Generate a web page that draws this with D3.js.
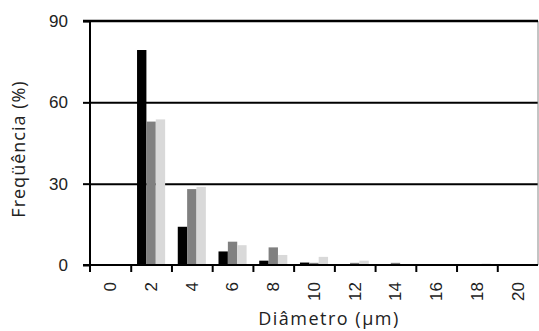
<!DOCTYPE html>
<html>
<head>
  <meta charset="utf-8" />
  <title>Frequência x Diâmetro</title>
  <script src="https://d3js.org/d3.v7.min.js"></script>
  <style>
    body {
      margin: 0;
      background: #fff;
    }

    svg {
      display: block;
      font-family: "Open Sans", sans-serif;
    }

    .tick text {
      fill: #222;
    }
  </style>
</head>
<body>

<svg width="539" height="331"></svg>

<script>
  // categories and series
  const diametros = ["0", "2", "4", "6", "8", "10", "12", "14", "16", "18", "20"];
  const serieA = [0, 79.3, 14.1, 5.0, 1.6, 0.9, 0, 0, 0, 0, 0];
  const serieB = [0, 52.9, 28.0, 8.6, 6.5, 0.8, 0.8, 0.8, 0, 0, 0];
  const serieC = [0, 53.7, 28.8, 7.3, 3.7, 3.0, 1.6, 0, 0, 0.5, 0];
  const yTicks = [0, 30, 60, 90];

  const series = [
    { name: "A", values: serieA, color: "#000000" },
    { name: "B", values: serieB, color: "#808080" },
    { name: "C", values: serieC, color: "#d9d9d9" }
  ];

  const svg = d3.select("svg");
  const mLeft = 90, mRight = 538, mTop = 21, mBottom = 265;

  const x0 = d3.scaleBand()
    .domain(diametros)
    .range([mLeft, mRight])
    .paddingInner(0.31)
    .paddingOuter(0.155);

  const x1 = d3.scaleBand()
    .domain(series.map(s => s.name))
    .range([0, x0.bandwidth()]);

  // boundaries between categories, for the tick marks
  const xEdge = d3.scaleLinear()
    .domain([0, diametros.length])
    .range([mLeft, mRight]);

  const y = d3.scaleLinear()
    .domain([0, 90])
    .range([mBottom, mTop]);

  // gridlines
  const grid = svg.append("g")
    .attr("transform", `translate(${mLeft},0)`)
    .call(d3.axisLeft(y).tickValues([30, 60]).tickSize(-(mRight - mLeft)).tickFormat(""));
  grid.select(".domain").remove();
  grid.selectAll("line").attr("stroke", "#000").attr("stroke-width", 2);

  // right border
  svg.append("line")
    .attr("x1", mRight).attr("x2", mRight)
    .attr("y1", mTop).attr("y2", mBottom)
    .attr("stroke", "#888")
    .attr("stroke-width", 1);

  // bars
  const groups = svg.append("g")
    .selectAll("g")
    .data(diametros)
    .join("g")
    .attr("transform", d => `translate(${x0(d)},0)`);

  groups.selectAll("rect")
    .data((d, i) => series.map(s => ({ key: s.name, value: s.values[i], color: s.color })))
    .join("rect")
    .attr("x", d => x1(d.key))
    .attr("width", x1.bandwidth())
    .attr("y", d => y(d.value))
    .attr("height", d => y(0) - y(d.value))
    .attr("fill", d => d.color);

  // top line at 90
  svg.append("line")
    .attr("x1", mLeft - 7).attr("x2", mRight)
    .attr("y1", y(90)).attr("y2", y(90))
    .attr("stroke", "#000")
    .attr("stroke-width", 2.5);

  // y axis
  const yAxis = svg.append("g")
    .attr("transform", `translate(${mLeft},0)`)
    .call(d3.axisLeft(y).tickValues(yTicks).tickSize(7).tickPadding(15));
  yAxis.select(".domain").attr("stroke-width", 2).attr("d", `M0,${mTop}V${mBottom + 7}`);
  yAxis.selectAll(".tick line").attr("stroke-width", 2);
  yAxis.selectAll(".tick text").attr("font-size", 17);

  // x axis: tick marks between categories
  const xTicks = svg.append("g")
    .attr("transform", `translate(0,${mBottom})`)
    .call(d3.axisBottom(xEdge).tickValues(d3.range(1, diametros.length)).tickSize(7).tickFormat(""));
  xTicks.select(".domain").attr("stroke-width", 2).attr("d", `M${mLeft - 7},0H${mRight}`);
  xTicks.selectAll(".tick line").attr("stroke-width", 2);

  // x labels, rotated
  const xLabels = svg.append("g")
    .attr("transform", `translate(0,${mBottom})`)
    .call(d3.axisBottom(x0).tickSize(0).tickPadding(0));
  xLabels.select(".domain").remove();
  xLabels.selectAll(".tick text")
    .attr("font-size", 17)
    .attr("transform", "rotate(-90)")
    .attr("text-anchor", "end")
    .attr("x", -17)
    .attr("y", 0)
    .attr("dy", "0.35em");

  // axis titles
  svg.append("text")
    .attr("x", 329)
    .attr("y", 325)
    .attr("text-anchor", "middle")
    .attr("font-size", 18)
    .attr("letter-spacing", 1.5)
    .attr("fill", "#222")
    .text("Diâmetro (μm)");

  svg.append("text")
    .attr("transform", "translate(25,149) rotate(-90)")
    .attr("text-anchor", "middle")
    .attr("font-size", 18)
    .attr("letter-spacing", 1)
    .attr("fill", "#222")
    .text("Freqüência (%)");
</script>

</body>
</html>
